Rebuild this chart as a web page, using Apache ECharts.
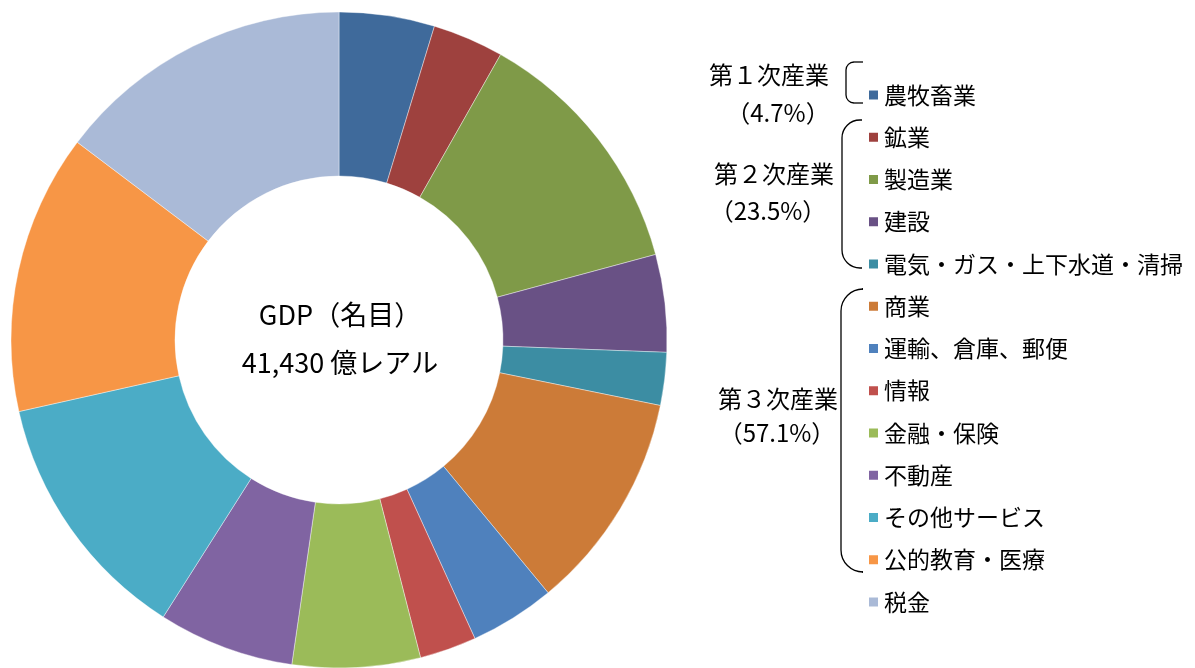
<!DOCTYPE html>
<html>
<head>
<meta charset="utf-8">
<script src="https://cdn.jsdelivr.net/npm/echarts@6/dist/echarts.min.js"></script>
<style>
  html, body { margin: 0; padding: 0; background: #fff; }
  #chart { width: 1195px; height: 668px; }
</style>
</head>
<body>
<div id="chart"></div>
<script>
// GDP (nominal) breakdown, share in %
const categories = [
  "農牧畜業",
  "鉱業", "製造業", "建設", "電気・ガス・上下水道・清掃",
  "商業", "運輸、倉庫、郵便", "情報", "金融・保険", "不動産", "その他サービス", "公的教育・医療",
  "税金",
];
const shares = [4.7, 3.5, 12.6, 4.8, 2.6, 10.8, 4.2, 2.8, 6.3, 6.7, 12.5, 13.8, 14.7];
const colors = [
  "#3f6a9b",
  "#9e413e", "#7f9a48", "#695185", "#3c8da3",
  "#cc7b38", "#4f81bd", "#c0504d", "#9bbb59", "#8064a2", "#4bacc6", "#f79646",
  "#aabad7",
];
const groupLabels = [
  ["第１次産業", "（4.7%）"],
  ["第２次産業", "（23.5%）"],
  ["第３次産業", "（57.1%）"],
];
const centerText = ["GDP（名目）", "41,430 億レアル"];

const FONT = '"Noto Sans CJK JP", "Noto Sans", sans-serif';

const chart = echarts.init(document.getElementById("chart"), null, { renderer: "canvas" });

// rounded "[" bracket from arcs and lines
function bracket(x0, x1, y0, y1, r) {
  const st = { stroke: "#000", lineWidth: 1.3, fill: null };
  return {
    type: "group",
    silent: true,
    children: [
      { type: "line", shape: { x1: x0 + r, y1: y0, x2: x1, y2: y0 }, style: st },
      { type: "arc", shape: { cx: x0 + r, cy: y0 + r, r: r, startAngle: Math.PI, endAngle: Math.PI * 1.5, clockwise: true }, style: st },
      { type: "line", shape: { x1: x0, y1: y0 + r, x2: x0, y2: y1 - r }, style: st },
      { type: "arc", shape: { cx: x0 + r, cy: y1 - r, r: r, startAngle: Math.PI / 2, endAngle: Math.PI, clockwise: true }, style: st },
      { type: "line", shape: { x1: x0 + r, y1: y1, x2: x1, y2: y1 }, style: st },
    ],
  };
}

function label(text, x, y) {
  return {
    type: "text",
    silent: true,
    style: {
      text: text,
      x: x,
      y: y,
      align: "center",
      verticalAlign: "middle",
      font: `24px ${FONT}`,
      fill: "#000",
    },
  };
}

const option = {
  animation: false,
  color: colors,
  legend: {
    orient: "vertical",
    left: 862,
    top: 78,
    itemWidth: 11,
    itemHeight: 11,
    itemGap: 18.25,
    icon: "rect",
    selectedMode: false,
    textStyle: { fontFamily: FONT, fontSize: 23, lineHeight: 24, color: "#000" },
    data: categories,
  },
  graphic: [
    bracket(846, 863, 62, 103, 8),
    bracket(842, 862, 120, 268, 18),
    bracket(841, 862, 289, 572, 22),
    label(groupLabels[0][0], 769, 75),
    label(groupLabels[0][1], 778, 113),
    label(groupLabels[1][0], 774, 174),
    label(groupLabels[1][1], 768, 211),
    label(groupLabels[2][0], 778, 399),
    label(groupLabels[2][1], 777, 433),
    {
      type: "text",
      silent: true,
      style: {
        text: centerText.join("\n"),
        x: 340,
        y: 339,
        align: "center",
        verticalAlign: "middle",
        font: `27px ${FONT}`,
        lineHeight: 48,
        fill: "#000",
      },
    },
  ],
  series: [
    {
      type: "pie",
      center: [339, 340],
      radius: [164, 328],
      startAngle: 90,
      clockwise: true,
      label: { show: false },
      labelLine: { show: false },
      emphasis: { disabled: true },
      itemStyle: { borderColor: "#fff", borderWidth: 0.4 },
      data: categories.map((name, i) => ({ name, value: shares[i] })),
    },
  ],
};

chart.setOption(option);
window.addEventListener("resize", chart.resize);
</script>
</body>
</html>
